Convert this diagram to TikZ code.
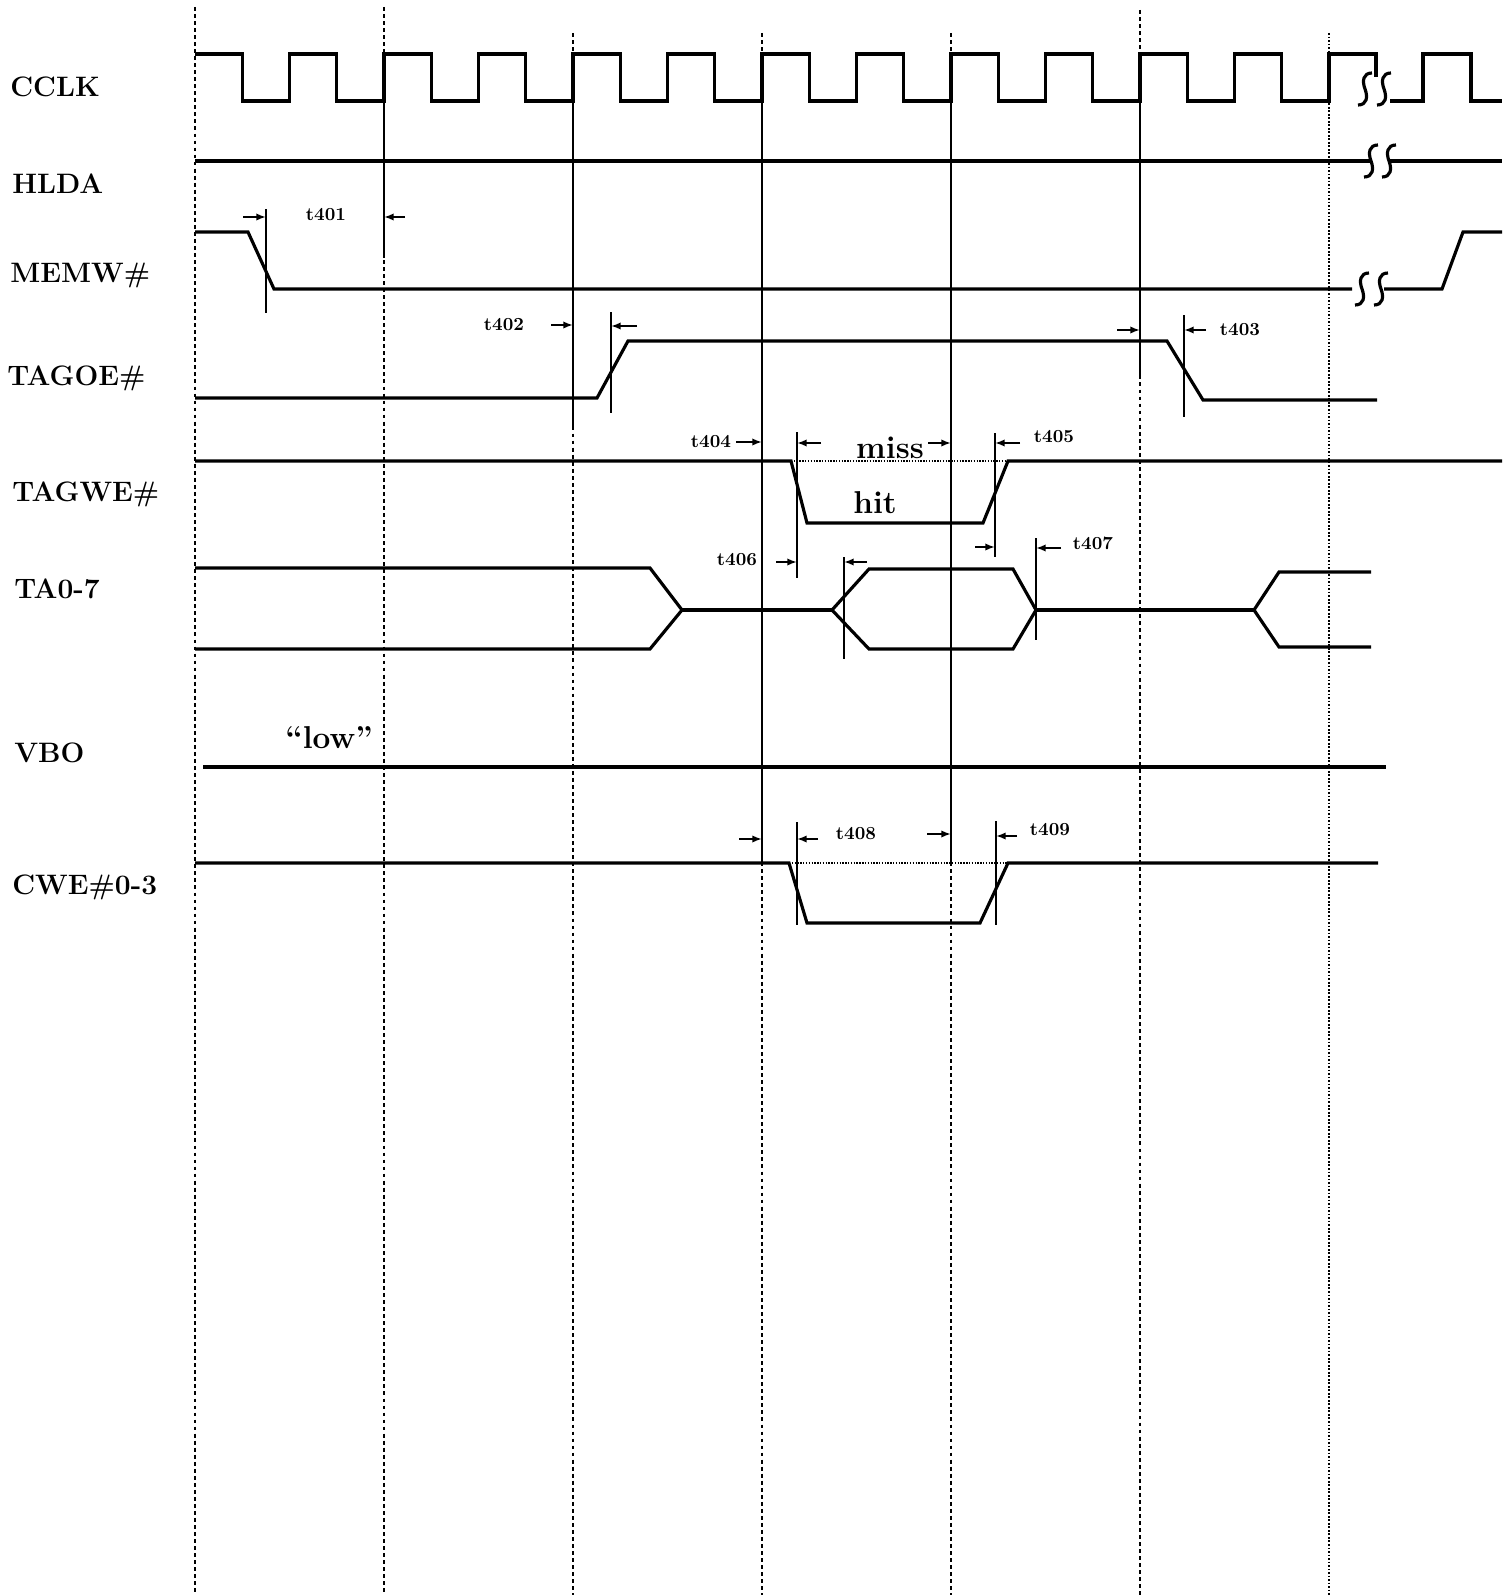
\documentclass[tikz,border=0pt]{standalone}
\usepackage{fontspec}
\usetikzlibrary{arrows.meta}

\begin{document}
\begin{tikzpicture}[
    x=0.02cm, y=-0.02cm,
    signal/.style={line width=1.8pt, line join=miter},
    refline/.style={line width=1.2pt},
    gridline/.style={line width=1.1pt, dash pattern=on 2.2pt off 1.8pt},
    fineline/.style={line width=0.7pt, dash pattern=on 1pt off 1pt},
    missline/.style={line width=0.9pt, dash pattern=on 0.8pt off 0.8pt},
    tarrow/.style={-{Latex[length=5.5pt,width=4.2pt]}, line width=1.3pt},
    siglabel/.style={anchor=base west, inner sep=0pt, font=\fontsize{16}{18}\selectfont\bfseries},
    tlabel/.style={inner sep=0pt, font=\fontsize{10.5}{12}\selectfont\bfseries},
    biglabel/.style={inner sep=0pt, font=\fontsize{18}{20}\selectfont\bfseries},
    brk/.pic={\draw[signal] (-7,16) .. controls (2,16) and (3,8) .. (0,0) .. controls (-3,-8) and (-2,-16) .. (7,-16);}
]
\useasboundingbox (0,0) rectangle (1502,1595);

% signal names
\node[siglabel] (cclk) at (10,96) {CCLK};
\node[siglabel] (hlda) at (12,193) {HLDA};
\node[siglabel] (memw) at (10,282) {MEMW\#};
\node[siglabel] (tagoe) at (7,385) {TAGOE\#};
\node[siglabel] (tagwe) at (12,501) {TAGWE\#};
\node[siglabel] (ta) at (14,598) {TA0-7};
\node[siglabel] (vbo) at (14,762) {VBO};
\node[siglabel] (cwe) at (12,894) {CWE\#0-3};

% clock grid
\draw[gridline] (195,7) -- (195,1595);
\draw[gridline] (384,7) -- (384,1595);
\draw[gridline] (573,33) -- (573,1595);
\draw[gridline] (762,33) -- (762,1595);
\draw[gridline] (951,33) -- (951,1595);
\draw[gridline] (1140,10) -- (1140,1595);
\draw[fineline] (1329,33) -- (1329,1595);

\draw[refline] (384,101) -- (384,258);
\draw[refline] (573,101) -- (573,427);
\draw[refline] (762,101) -- (762,863);
\draw[refline] (951,101) -- (951,863);
\draw[refline] (1140,101) -- (1140,378);

% CCLK
\draw[signal] (195,54)
    -- ++(47.25,0) -- ++(0,47) -- ++(47.25,0) -- ++(0,-47)
    -- ++(47.25,0) -- ++(0,47) -- ++(47.25,0) -- ++(0,-47)
    -- ++(47.25,0) -- ++(0,47) -- ++(47.25,0) -- ++(0,-47)
    -- ++(47.25,0) -- ++(0,47) -- ++(47.25,0) -- ++(0,-47)
    -- ++(47.25,0) -- ++(0,47) -- ++(47.25,0) -- ++(0,-47)
    -- ++(47.25,0) -- ++(0,47) -- ++(47.25,0) -- ++(0,-47)
    -- ++(47.25,0) -- ++(0,47) -- ++(47.25,0) -- ++(0,-47)
    -- ++(47.25,0) -- ++(0,47) -- ++(47.25,0) -- ++(0,-47)
    -- ++(47.25,0) -- ++(0,47) -- ++(47.25,0) -- ++(0,-47)
    -- ++(47.25,0) -- ++(0,47) -- ++(47.25,0) -- ++(0,-47)
    -- ++(47.25,0) -- ++(0,47) -- ++(47.25,0) -- ++(0,-47)
    -- ++(47.25,0) -- ++(0,47) -- ++(47.25,0) -- ++(0,-47)
    -- (1376,54) -- (1376,77);
\pic at (1365,89) {brk};
\pic at (1384,89) {brk};
\draw[signal] (1390,101) -- (1423,101) -- (1423,54) -- (1471,54) -- (1471,101) -- (1502,101);

% HLDA
\draw[signal] (195,161) -- (1371,161);
\pic at (1371,161) {brk};
\pic at (1389,161) {brk};
\draw[signal] (1389,161) -- (1502,161);

% MEMW#
\draw[signal] (195,232) -- (248,232) -- (274,289) -- (1352,289);
\pic at (1362,289) {brk};
\pic at (1381,289) {brk};
\draw[signal] (1384,289) -- (1442,289) -- (1463,232) -- (1502,232);

\draw[refline] (266,209) -- (266,313);
\draw[tarrow] (243,217) -- (266,217);
\node[tlabel] (t401) at (326,215) {t401};
\draw[tarrow] (405,217) -- (384,217);

% TAGOE#
\draw[signal] (195,398) -- (597,398) -- (628,341) -- (1167,341) -- (1203,400) -- (1377,400);

\node[tlabel] (t402) at (504,325) {t402};
\draw[tarrow] (551,325) -- (573,325);
\draw[refline] (611,312) -- (611,413);
\draw[tarrow] (637,326) -- (611,326);

\draw[tarrow] (1117,330) -- (1140,330);
\draw[refline] (1184,315) -- (1184,417);
\draw[tarrow] (1206,330) -- (1184,330);
\node[tlabel] (t403) at (1240,330) {t403};

% TAGWE#
\draw[signal] (195,461) -- (791,461) -- (807,523) -- (983,523) -- (1008,461) -- (1502,461);
\draw[missline] (791,461) -- (1008,461);

\node[tlabel] (t404) at (711,442) {t404};
\draw[tarrow] (736,442) -- (762,442);
\draw[refline] (797,432) -- (797,578);
\draw[tarrow] (821,443) -- (797,443);
\node[biglabel] (miss) at (890,448) {miss};
\draw[tarrow] (928,443) -- (951,443);
\node[biglabel] (hit) at (875,503) {hit};

\draw[refline] (995,433) -- (995,557);
\draw[tarrow] (1020,443) -- (995,443);
\node[tlabel] (t405) at (1054,437) {t405};

% TA0-7
\draw[signal] (195,568) -- (650,568) -- (682,610) -- (650,649) -- (195,649);
\draw[signal] (682,610) -- (832,610);
\draw[signal] (832,610) -- (869,569) -- (1013,569) -- (1036,610) -- (1013,649) -- (869,649) -- cycle;
\draw[signal] (1036,610) -- (1254,610);
\draw[signal] (1371,572) -- (1279,572) -- (1254,610) -- (1279,647) -- (1371,647);

\node[tlabel] (t406) at (737,560) {t406};
\draw[tarrow] (776,562) -- (797,562);
\draw[refline] (844,557) -- (844,659);
\draw[tarrow] (867,562) -- (844,562);

\draw[tarrow] (975,547) -- (995,547);
\draw[refline] (1036,538) -- (1036,640);
\draw[tarrow] (1061,548) -- (1036,548);
\node[tlabel] (t407) at (1093,543) {t407};

% VBO
\draw[signal] (203,767) -- (1386,767);
\node[biglabel] (low) at (329,738) {“low”};

% CWE#0-3
\draw[signal] (195,863) -- (789,863) -- (807,923) -- (980,923) -- (1008,863) -- (1378,863);
\draw[missline] (789,863) -- (1008,863);

\draw[tarrow] (739,839) -- (762,839);
\draw[refline] (797,822) -- (797,925);
\draw[tarrow] (818,839) -- (797,839);
\node[tlabel] (t408) at (856,834) {t408};
\draw[tarrow] (927,834) -- (951,834);

\draw[refline] (996,821) -- (996,925);
\draw[tarrow] (1017,836) -- (996,836);
\node[tlabel] (t409) at (1050,830) {t409};

\end{tikzpicture}
\end{document}
